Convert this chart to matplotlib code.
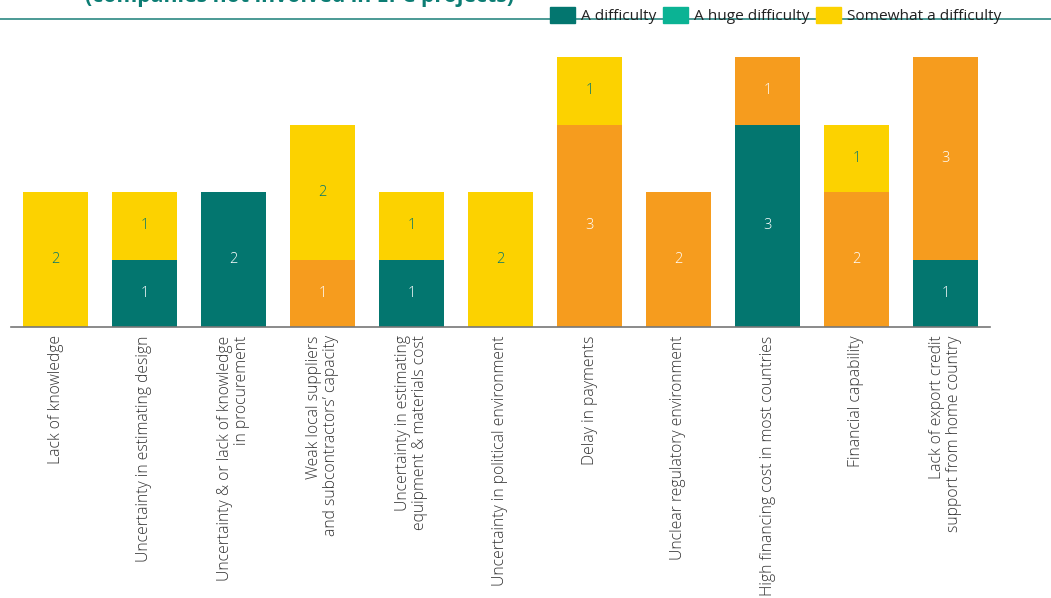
import matplotlib
matplotlib.use("Agg")
import matplotlib.pyplot as plt
from matplotlib.patches import Patch
import numpy as np

plt.rcParams['font.family'] = ['Open Sans', 'DejaVu Sans']

# Difficulties reported by companies not involved in EPC projects
categories = [
    "Lack of knowledge",
    "Uncertainty in estimating design",
    "Uncertainty & or lack of knowledge\nin procurement",
    "Weak local suppliers\nand subcontractors’ capacity",
    "Uncertainty in estimating\nequipment & materials cost",
    "Uncertainty in political environment",
    "Delay in payments",
    "Unclear regulatory environment",
    "High financing cost in most countries",
    "Financial capability",
    "Lack of export credit\nsupport from home country",
]
a_difficulty = [0, 1, 2, 0, 1, 0, 0, 0, 3, 0, 1]
huge_difficulty = [0, 0, 0, 1, 0, 0, 3, 2, 1, 2, 3]
somewhat_difficulty = [2, 1, 0, 2, 1, 2, 1, 0, 0, 1, 0]

TEAL = "#03766f"
ORANGE = "#f69c1e"
YELLOW = "#fcd200"
GREEN = "#0bb394"

fig = plt.figure(figsize=(10.51, 5.98), dpi=100)
ax = fig.add_axes([11 / 1051, (598 - 327) / 598, (990 - 11) / 1051, 270 / 598])

x = np.arange(len(categories))
w = 0.73
series = [
    (a_difficulty, TEAL, "white"),
    (huge_difficulty, ORANGE, "white"),
    (somewhat_difficulty, YELLOW, TEAL),
]
bottom = np.zeros(len(categories))
for vals, col, txtcol in series:
    vals = np.array(vals, dtype=float)
    ax.bar(x, vals, w, bottom=bottom, color=col, linewidth=0)
    for xi, b, v in zip(x, bottom, vals):
        if v > 0:
            ax.text(xi, b + v / 2, f"{int(v)}", ha="center", va="center",
                    color=txtcol, fontsize=10.5, fontweight="light")
    bottom += vals

ax.set_xlim(-0.5, 10.5)
ax.set_ylim(0, 4)
for s in ["top", "right", "left"]:
    ax.spines[s].set_visible(False)
ax.spines["bottom"].set_color("#777777")
ax.spines["bottom"].set_linewidth(1.2)
ax.set_yticks([])
ax.set_xticks(x)
ax.set_xticklabels(categories, rotation=90, ha="center", va="top",
                   multialignment="right", fontsize=11.3, color="#333333",
                   fontweight="light", linespacing=1.05)
ax.tick_params(axis="x", length=0, pad=6)

# header rule and title (runs off the top edge)
fig.add_artist(plt.Line2D([0, 1], [1 - 19 / 598] * 2, color="#1a7f78", lw=1.1))
fig.text(85 / 1051, 1 - 2 / 598, "(companies not involved in EPC projects)",
         ha="left", va="baseline", fontsize=15.3, fontweight="bold", color="#0c7d74")

handles = [Patch(color=TEAL), Patch(color=GREEN), Patch(color=YELLOW)]
labels = ["A difficulty", "A huge difficulty", "Somewhat a difficulty"]
fig.legend(handles, labels, loc="upper left", bbox_to_anchor=(544 / 1051, 1 - 1 / 598),
           ncol=3, frameon=False, fontsize=11.1, handlelength=1.6, handleheight=1.2,
           handletextpad=0.4, columnspacing=0.45, borderaxespad=0,
           labelcolor="#222222")

fig.savefig("out.png", dpi=100)
